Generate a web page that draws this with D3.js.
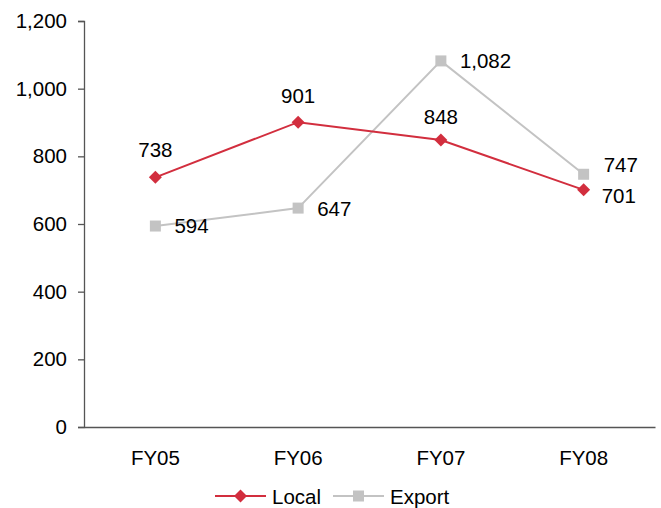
<!DOCTYPE html>
<html>
<head>
<meta charset="utf-8">
<script src="https://cdn.jsdelivr.net/npm/d3@7"></script>
<style>
  html, body { margin: 0; padding: 0; background: #fff; }
  svg { display: block; }
  text { font-family: "Liberation Sans", Arial, sans-serif; fill: #000; }
</style>
</head>
<body>
<svg id="chart" width="661" height="508"></svg>
<script>
const categories = ["FY05", "FY06", "FY07", "FY08"];
const localValues = [738, 901, 848, 701];
const exportValues = [594, 647, 1082, 747];
const yTicks = [0, 200, 400, 600, 800, 1000, 1200];
const seriesNames = ["Local", "Export"];

const svg = d3.select("#chart");
const margin = { left: 84, right: 6, top: 21, bottom: 81 };
const width = 661, height = 508;
const fontSize = 20.5;
const fontFamily = "Liberation Sans, Arial, sans-serif";

const x = d3.scaleBand()
  .domain(categories)
  .range([margin.left, width - margin.right]);

const y = d3.scaleLinear()
  .domain([0, 1200])
  .range([height - margin.bottom, margin.top]);

const fmt = d3.format(",");
const red = "#d22e3e";
const grey = "#c3c3c3";
const axisColor = "#555";
const diamondArea = 84;

// Y axis
const yAxis = svg.append("g")
  .attr("transform", `translate(${margin.left},0)`)
  .call(d3.axisLeft(y).tickValues(yTicks).tickFormat(fmt).tickSize(6).tickPadding(11));
yAxis.select(".domain").attr("stroke", axisColor).attr("stroke-width", 1.3);
yAxis.selectAll(".tick line").attr("stroke", axisColor).attr("stroke-width", 1.3);
yAxis.selectAll(".tick text").attr("font-size", fontSize).style("font-family", fontFamily);

// X axis
const xAxis = svg.append("g")
  .attr("transform", `translate(0,${y(0)})`)
  .call(d3.axisBottom(x).tickSize(0).tickPadding(23));
xAxis.select(".domain").attr("stroke", axisColor).attr("stroke-width", 1.3);
xAxis.selectAll(".tick text").attr("font-size", fontSize).style("font-family", fontFamily);

const cx = d => x(d) + x.bandwidth() / 2;

const line = d3.line().x(d => cx(d.cat)).y(d => y(d.v));
const localData = categories.map((c, i) => ({ cat: c, v: localValues[i] }));
const exportData = categories.map((c, i) => ({ cat: c, v: exportValues[i] }));

// Export series
svg.append("path").datum(exportData)
  .attr("fill", "none").attr("stroke", grey).attr("stroke-width", 2)
  .attr("d", line);
svg.selectAll(".exp-pt").data(exportData).enter().append("rect")
  .attr("x", d => cx(d.cat) - 5.5).attr("y", d => y(d.v) - 5.5)
  .attr("width", 11).attr("height", 11).attr("fill", grey);

// Local series
svg.append("path").datum(localData)
  .attr("fill", "none").attr("stroke", red).attr("stroke-width", 2)
  .attr("d", line);
svg.selectAll(".loc-pt").data(localData).enter().append("path")
  .attr("d", d3.symbol().type(d3.symbolSquare).size(diamondArea))
  .attr("transform", d => `translate(${cx(d.cat)},${y(d.v)}) rotate(45)`)
  .attr("fill", red);

// Value labels
const localOffsets = [[0, -20], [0, -19], [0, -16], [18, 13]];
const exportOffsets = [[19, 7], [19, 8], [19, 7], [20, -2]];
svg.selectAll(".loc-lbl").data(localData).enter().append("text")
  .attr("x", (d, i) => cx(d.cat) + localOffsets[i][0])
  .attr("y", (d, i) => y(d.v) + localOffsets[i][1])
  .attr("text-anchor", (d, i) => localOffsets[i][0] === 0 ? "middle" : "start")
  .attr("font-size", fontSize)
  .text(d => fmt(d.v));
svg.selectAll(".exp-lbl").data(exportData).enter().append("text")
  .attr("x", (d, i) => cx(d.cat) + exportOffsets[i][0])
  .attr("y", (d, i) => y(d.v) + exportOffsets[i][1])
  .attr("font-size", fontSize)
  .text(d => fmt(d.v));

// Legend
const legend = svg.append("g").attr("transform", "translate(0,496)");
const legItems = [
  { name: seriesNames[0], color: red, x: 215, type: "diamond" },
  { name: seriesNames[1], color: grey, x: 333, type: "square" }
];
legItems.forEach(it => {
  legend.append("line").attr("x1", it.x).attr("x2", it.x + 51)
    .attr("y1", 0).attr("y2", 0).attr("stroke", it.color).attr("stroke-width", 2);
  if (it.type === "diamond") {
    legend.append("path")
      .attr("d", d3.symbol().type(d3.symbolSquare).size(diamondArea))
      .attr("transform", `translate(${it.x + 25.5},0) rotate(45)`)
      .attr("fill", it.color);
  } else {
    legend.append("rect").attr("x", it.x + 20).attr("y", -5.5)
      .attr("width", 11).attr("height", 11).attr("fill", it.color);
  }
  legend.append("text").attr("x", it.x + 57).attr("y", 7.5)
    .attr("font-size", fontSize).text(it.name);
});
</script>
</body>
</html>
